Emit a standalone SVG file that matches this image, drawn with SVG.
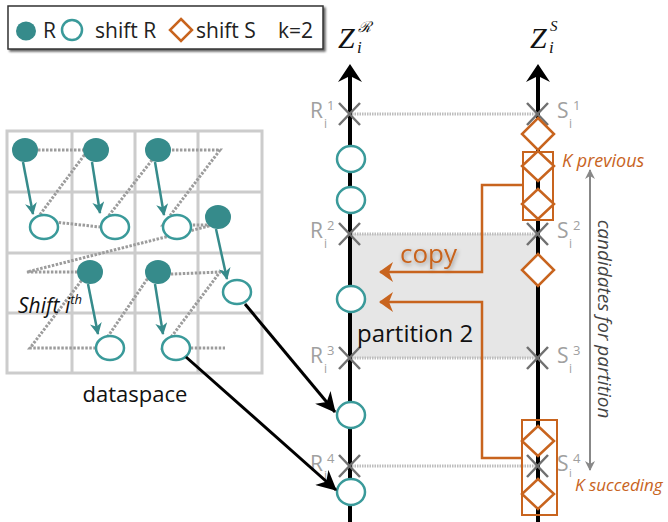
<svg xmlns="http://www.w3.org/2000/svg" width="668" height="522" viewBox="0 0 668 522">
<style>
  .teal-f{fill:#368b8b;}
  .hol{fill:#fff;stroke:#3a9a9a;stroke-width:2.5;}
  .tarr{stroke:#368b8b;stroke-width:2.5;fill:none;marker-end:url(#mTeal);}
  .grid{stroke:#cccccc;stroke-width:3;fill:none;}
  .zz{stroke:#9c9c9c;stroke-width:3;stroke-dasharray:2.5 1.5;fill:none;}
  .hz{stroke:#bdbdbd;stroke-width:3;stroke-dasharray:1.5 1;fill:none;}
  .axis{stroke:#000;stroke-width:4;fill:none;}
  .cross{stroke:#707070;stroke-width:2.5;fill:none;}
  .dia{fill:#fff;stroke:#c8641e;stroke-width:2.5;}
  .obox{fill:none;stroke:#c8641e;stroke-width:2;}
  .oline{fill:none;stroke:#c8641e;stroke-width:2.5;}
  .lbl{font-family:"Open Sans","Liberation Sans",sans-serif;}
  .gl{font-family:"Open Sans","Liberation Sans",sans-serif;fill:#a0a0a0;}
  .org{font-family:"Open Sans","Liberation Sans",sans-serif;fill:#c8641e;}
</style>
<defs>
  <marker id="mTeal" viewBox="0 0 12 12" refX="11" refY="6" markerWidth="12" markerHeight="12" orient="auto" markerUnits="userSpaceOnUse">
    <path d="M0,0 L12,6 L0,12 L3.5,6 z" fill="#368b8b"/>
  </marker>
  <marker id="mBlack" viewBox="0 0 20 20" refX="19" refY="10" markerWidth="20" markerHeight="20" orient="auto" markerUnits="userSpaceOnUse">
    <path d="M0,0 L20,10 L0,20 L6,10 z" fill="#000"/>
  </marker>
  <marker id="mOrange" viewBox="0 0 14 20" refX="13" refY="10" markerWidth="14" markerHeight="20" orient="auto" markerUnits="userSpaceOnUse">
    <path d="M0,0 L14,10 L0,20 L4,10 z" fill="#c8641e"/>
  </marker>
  <marker id="mGray" viewBox="0 0 10 10" refX="9" refY="5" markerWidth="10" markerHeight="10" orient="auto" markerUnits="userSpaceOnUse">
    <path d="M0,0 L10,5 L0,10 L3,5 z" fill="#888"/>
  </marker>
  <filter id="sh" x="-10%" y="-20%" width="130%" height="160%">
    <feDropShadow dx="2" dy="2" stdDeviation="1.2" flood-color="#000" flood-opacity="0.6"/>
  </filter>
  <filter id="tsh" x="-20%" y="-30%" width="140%" height="170%">
    <feDropShadow dx="1" dy="2" stdDeviation="2" flood-color="#000" flood-opacity="0.35"/>
  </filter>
</defs>

<!-- Legend -->
<g id="legend">
  <rect x="8" y="6" width="315" height="43" fill="#fff" stroke="#333" stroke-width="1.5" filter="url(#sh)"/>
  <ellipse cx="26" cy="31" rx="10" ry="9.5" class="teal-f"/>
  <text x="43" y="38" class="lbl" font-size="21" fill="#222">R</text>
  <ellipse cx="72" cy="30" rx="10" ry="10" class="hol"/>
  <text x="95" y="38" class="lbl" font-size="21" fill="#222">shift R</text>
  <path d="M181,19 L192,30 L181,41 L170,30 z" class="dia"/>
  <text x="196" y="38" class="lbl" font-size="21" fill="#222">shift S</text>
  <text x="278" y="38" class="lbl" font-size="21" fill="#222">k=2</text>
</g>

<!-- Dataspace -->
<g id="dataspace">
  <rect x="7" y="131" width="255" height="242" class="grid"/>
  <path d="M72,131 V373 M135,131 V373 M198,131 V373 M7,192 H262 M7,253 H262 M7,313 H262" class="grid"/>
  <polyline class="zz" points="30,150 88,150 36,220 100,227 152,160 158,150 220,150 163,225 213,225 27,272 88,272 30,348 100,348 150,275 220,272 163,348 225,348"/>
  <g id="r-points">
    <ellipse cx="25" cy="150" rx="13" ry="12" class="teal-f"/>
    <ellipse cx="96" cy="150" rx="13" ry="12" class="teal-f"/>
    <ellipse cx="158" cy="150" rx="13" ry="12" class="teal-f"/>
    <ellipse cx="218" cy="217" rx="13" ry="12" class="teal-f"/>
    <ellipse cx="90" cy="272" rx="13" ry="12" class="teal-f"/>
    <ellipse cx="158" cy="272" rx="13" ry="12" class="teal-f"/>
  </g>
  <g id="shift-points">
    <ellipse cx="44" cy="227" rx="14" ry="12" class="hol"/>
    <ellipse cx="115" cy="227" rx="14" ry="12" class="hol"/>
    <ellipse cx="177" cy="227" rx="14" ry="12" class="hol"/>
    <ellipse cx="237" cy="292" rx="14" ry="12" class="hol"/>
    <ellipse cx="110" cy="348" rx="14" ry="12" class="hol"/>
    <ellipse cx="176" cy="348" rx="14" ry="12" class="hol"/>
  </g>
  <text x="18" y="313" class="lbl" font-size="21" font-style="italic" fill="#111">Shift i<tspan font-size="13" dy="-9">th</tspan></text>
  <text x="135" y="402" class="lbl" font-size="22" fill="#111" text-anchor="middle">dataspace</text>
</g>

<!-- Partition shading and separators -->
<g id="partition">
  <rect x="351" y="234" width="187" height="124" fill="#e6e6e6"/>
  <path d="M352,114 H536 M352,234 H536 M352,358 H536 M352,466 H536" class="hz"/>
</g>

<!-- Axes -->
<g id="axis-R">
  <line x1="350" y1="72" x2="350" y2="522" class="axis"/>
  <path d="M350,64 L362,82 L350,76 L338,82 z" fill="#000"/>
  <text x="338" y="48" font-family="Liberation Serif,serif" font-style="italic" font-size="30" fill="#111">Z</text>
  <text x="357" y="53" font-family="Liberation Serif,serif" font-style="italic" font-size="17" fill="#111">i</text>
  <text x="358" y="32" font-family="Liberation Serif,serif" font-style="italic" font-size="15" fill="#111">ℛ</text>
</g>
<g id="axis-S">
  <line x1="538" y1="72" x2="538" y2="522" class="axis"/>
  <path d="M538,64 L550,82 L538,76 L526,82 z" fill="#000"/>
  <text x="530" y="48" font-family="Liberation Serif,serif" font-style="italic" font-size="30" fill="#111">Z</text>
  <text x="549" y="53" font-family="Liberation Serif,serif" font-style="italic" font-size="17" fill="#111">i</text>
  <text x="550" y="31" font-family="Liberation Serif,serif" font-style="italic" font-size="15" fill="#111">S</text>
</g>

<!-- Crosses and labels -->
<g id="marks">
  <path class="cross" d="M339,103 L360,125 M360,103 L339,125 M527,103 L548,125 M548,103 L527,125
    M339,223 L360,245 M360,223 L339,245 M527,223 L548,245 M548,223 L527,245
    M339,347 L360,369 M360,347 L339,369 M527,347 L548,369 M548,347 L527,369
    M339,455 L360,477 M360,455 L339,477 M527,455 L548,477 M548,455 L527,477"/>
  <g class="gl">
    <text x="310" y="118" font-size="21">R</text><text x="324" y="128" font-size="12">i</text><text x="327" y="110" font-size="13">1</text>
    <text x="310" y="238" font-size="21">R</text><text x="324" y="248" font-size="12">i</text><text x="327" y="230" font-size="13">2</text>
    <text x="310" y="363" font-size="21">R</text><text x="324" y="373" font-size="12">i</text><text x="327" y="355" font-size="13">3</text>
    <text x="310" y="471" font-size="21">R</text><text x="324" y="480" font-size="12">i</text><text x="327" y="463" font-size="13">4</text>
    <text x="557" y="118" font-size="21">S</text><text x="569" y="128" font-size="12">i</text><text x="573" y="110" font-size="13">1</text>
    <text x="557" y="238" font-size="21">S</text><text x="569" y="248" font-size="12">i</text><text x="573" y="230" font-size="13">2</text>
    <text x="557" y="363" font-size="21">S</text><text x="569" y="373" font-size="12">i</text><text x="573" y="355" font-size="13">3</text>
    <text x="557" y="471" font-size="21">S</text><text x="569" y="477" font-size="11">i</text><text x="573" y="463" font-size="13">4</text>
  </g>
</g>

<!-- R axis points -->
<g id="R-shifted">
  <ellipse cx="351" cy="159" rx="14" ry="13" class="hol"/>
  <ellipse cx="351" cy="200" rx="14" ry="13" class="hol"/>
  <ellipse cx="351" cy="299" rx="14" ry="13" class="hol"/>
  <ellipse cx="351" cy="415" rx="14" ry="13" class="hol"/>
  <ellipse cx="351" cy="492" rx="14" ry="13" class="hol"/>
</g>

<!-- S axis points -->
<g id="S-shifted">
  <path class="dia" d="M538,118 L554,134 L538,150 L522,134 z"/>
  <path class="dia" d="M538,151 L554,166 L538,181 L522,166 z"/>
  <path class="dia" d="M538,189 L554,204 L538,219 L522,204 z"/>
  <path class="dia" d="M538,254 L554,270 L538,286 L522,270 z"/>
  <path class="dia" d="M538,426 L554,441 L538,456 L522,441 z"/>
  <path class="dia" d="M538,479 L554,494 L538,509 L522,494 z"/>
</g>

<g id="k-previous">
  <rect x="523" y="152" width="30" height="68" class="obox"/>
  <text x="562" y="167" class="org" font-size="18" font-style="italic">K previous</text>
</g>
<g id="k-succeeding">
  <rect x="522" y="420" width="35" height="95" class="obox"/>
  <text x="575" y="491" class="org" font-size="17" font-style="italic">K succeding</text>
</g>

<g id="candidates">
  <line x1="590" y1="466" x2="590" y2="170" stroke="#888" stroke-width="2" marker-end="url(#mGray)"/>
  <line x1="590" y1="170" x2="590" y2="470" stroke="#888" stroke-width="2" marker-end="url(#mGray)"/>
  <text transform="translate(598,319) rotate(90)" text-anchor="middle" class="lbl" font-size="19" font-style="italic" fill="#444">candidates for partition</text>
</g>

<g id="labels">
  <text x="400" y="263" class="org" font-size="26" filter="url(#tsh)">copy</text>
  <text x="357" y="342" class="lbl" font-size="24" fill="#111">partition 2</text>
</g>

<!-- Connectors -->
<g id="connectors">
  <polyline class="oline" points="523,185 482,185 482,272 380,272" marker-end="url(#mOrange)"/>
  <polyline class="oline" points="522,458 482,458 482,302 380,302" marker-end="url(#mOrange)"/>
  <line x1="245" y1="304" x2="335" y2="412" stroke="#000" stroke-width="3" marker-end="url(#mBlack)"/>
  <line x1="186" y1="357" x2="336" y2="490" stroke="#000" stroke-width="3" marker-end="url(#mBlack)"/>
  <line x1="23" y1="162" x2="33" y2="214" class="tarr"/>
  <line x1="92" y1="162" x2="100" y2="213" class="tarr"/>
  <line x1="155" y1="162" x2="164" y2="215" class="tarr"/>
  <line x1="216" y1="229" x2="227" y2="279" class="tarr"/>
  <line x1="88" y1="284" x2="98" y2="334" class="tarr"/>
  <line x1="155" y1="284" x2="163" y2="334" class="tarr"/>
</g>
</svg>
